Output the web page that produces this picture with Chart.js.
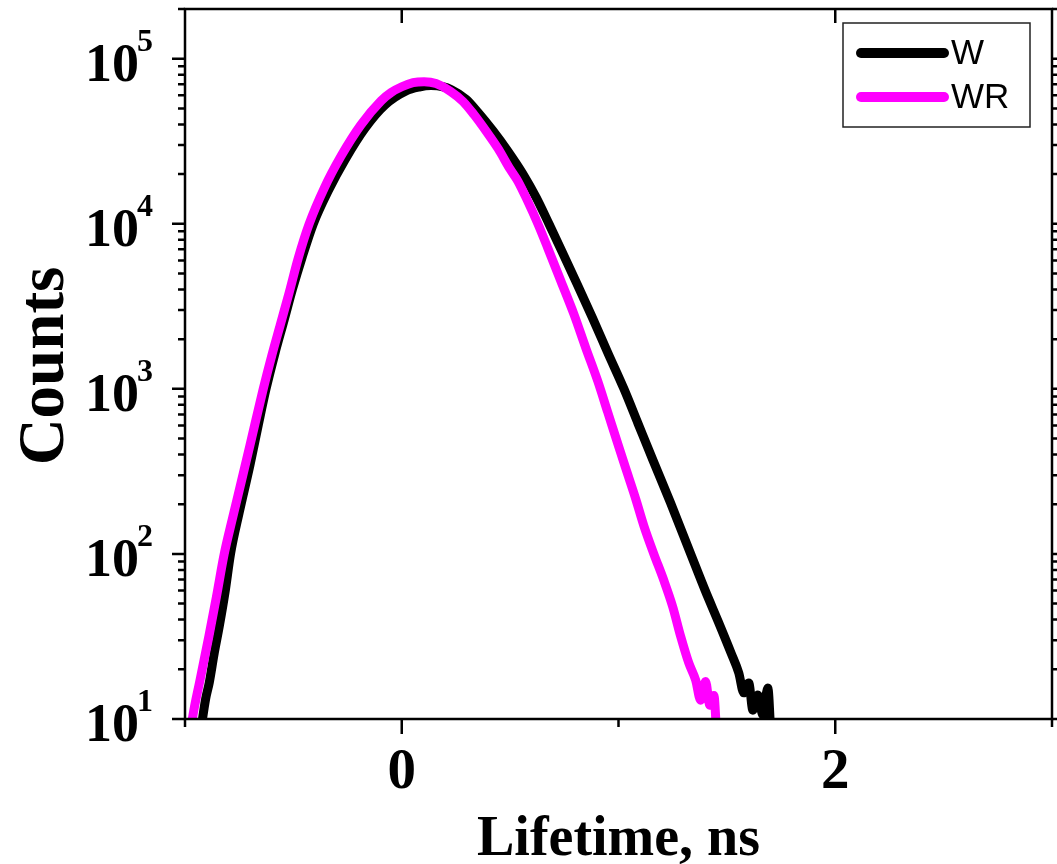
<!DOCTYPE html>
<html>
<head>
<meta charset="utf-8">
<script src="https://cdn.jsdelivr.net/npm/chart.js@4.4.1/dist/chart.umd.min.js"></script>
<style>
  html, body { margin: 0; padding: 0; background: #fff; }
  #wrap { width: 1057px; height: 864px; position: relative; }
</style>
</head>
<body>
<div id="wrap"><canvas id="c" width="1057" height="864"></canvas></div>
<script>
// ---- data ----
const seriesNames = ["W", "WR"];
const seriesColors = ["#000000", "#FF00FF"];

const wTime = [-0.930, -0.905, -0.888, -0.865, -0.842, -0.815, -0.790, -0.750, -0.700, -0.662, -0.626, -0.584, -0.542, -0.505, -0.459, -0.408, -0.339, -0.261, -0.169, -0.077, 0.020, 0.080, 0.135, 0.190, 0.227, 0.296, 0.352, 0.420, 0.490, 0.560, 0.620, 0.679, 0.740, 0.800, 0.880, 0.950, 1.025, 1.090, 1.160, 1.240, 1.333, 1.400, 1.460, 1.520, 1.555, 1.578, 1.601, 1.620, 1.643, 1.666, 1.689, 1.703];
const wCounts = [8, 13.2, 16.6, 25.1, 36.3, 58.9, 100, 178, 347, 603, 1000, 1660, 2630, 3980, 6310, 10000, 15850, 24550, 38000, 52500, 63800, 67300, 68700, 67600, 65000, 56900, 47300, 36700, 27500, 19950, 14450, 10000, 6760, 4570, 2690, 1660, 1000, 617, 367, 204, 100, 60, 39, 25, 19.0, 14.4, 16.5, 11.3, 14.0, 10.6, 15.4, 8];

const wrTime = [-0.975, -0.966, -0.930, -0.890, -0.855, -0.819, -0.780, -0.740, -0.700, -0.639, -0.600, -0.560, -0.520, -0.478, -0.427, -0.358, -0.280, -0.188, -0.095, -0.049, 0.000, 0.052, 0.103, 0.158, 0.227, 0.283, 0.333, 0.390, 0.444, 0.500, 0.536, 0.580, 0.628, 0.674, 0.734, 0.794, 0.849, 0.904, 0.950, 1.001, 1.043, 1.080, 1.117, 1.163, 1.209, 1.250, 1.287, 1.324, 1.356, 1.379, 1.402, 1.421, 1.440, 1.453];
const wrCounts = [8, 10, 17.4, 31.6, 55.0, 100, 166, 275, 457, 1000, 1585, 2455, 3800, 6166, 10000, 16400, 25700, 39800, 55600, 62400, 67600, 71600, 72600, 70800, 63100, 55000, 45900, 36300, 28600, 21400, 18100, 13800, 10000, 7110, 4500, 2840, 1770, 1117, 724, 447, 302, 214, 148, 100, 69.2, 47.9, 31.6, 21.9, 17.2, 13.0, 16.9, 12.1, 13.9, 8];

const xMajorTicks = [0, 2];
const xMinorTicks = [-1, 1, 3];
const yExponents = [1, 2, 3, 4, 5];
const xTitle = "Lifetime, ns";
const yTitle = "Counts";

// ---- build ----
function pts(xs, ys) { return xs.map((x, i) => ({ x: x, y: ys[i] })); }

const SERIF = '"Liberation Serif", "Times New Roman", serif';
const SANS = '"Liberation Sans", Arial, sans-serif';

const decoPlugin = {
  id: 'deco',
  afterDraw(chart) {
    const ctx = chart.ctx;
    const a = chart.chartArea;
    const xs = chart.scales.x, ys = chart.scales.y;
    ctx.save();
    ctx.strokeStyle = '#000';
    ctx.fillStyle = '#000';
    ctx.lineCap = 'butt';
    // frame
    ctx.lineWidth = 2.5;
    ctx.strokeRect(a.left, a.top, a.right - a.left, a.bottom - a.top);

    // y ticks (left outward, right outward)
    for (let e = 1; e <= 5; e++) {
      for (let m = 1; m <= 9; m++) {
        const v = m * Math.pow(10, e);
        if (v > ys.max) break;
        const py = ys.getPixelForValue(v);
        const len = (m === 1) ? 13 : 7;
        ctx.beginPath();
        ctx.moveTo(a.left, py); ctx.lineTo(a.left - len, py);
        ctx.moveTo(a.right, py); ctx.lineTo(a.right + len, py);
        ctx.stroke();
      }
    }
    // x ticks (bottom outward; top inward at majors)
    xMajorTicks.forEach(v => {
      const px = xs.getPixelForValue(v);
      ctx.beginPath();
      ctx.moveTo(px, a.bottom); ctx.lineTo(px, a.bottom + 15);
      ctx.moveTo(px, a.top); ctx.lineTo(px, a.top + 14);
      ctx.stroke();
    });
    xMinorTicks.forEach(v => {
      const px = xs.getPixelForValue(v);
      ctx.beginPath();
      ctx.moveTo(px, a.bottom); ctx.lineTo(px, a.bottom + 8);
      ctx.stroke();
    });

    // y tick labels: 10^e
    yExponents.forEach(e => {
      const py = ys.getPixelForValue(Math.pow(10, e));
      ctx.font = 'bold 54px ' + SERIF;
      ctx.textAlign = 'right';
      ctx.textBaseline = 'alphabetic';
      ctx.fillText('10', 139, py + 22);
      ctx.font = 'bold 32px ' + SERIF;
      ctx.textAlign = 'left';
      ctx.fillText(String(e), 137, py - 8);
    });
    // x tick labels
    ctx.font = 'bold 57px ' + SERIF;
    ctx.textAlign = 'center';
    ctx.textBaseline = 'alphabetic';
    xMajorTicks.forEach(v => {
      ctx.fillText(String(v), xs.getPixelForValue(v), a.bottom + 69);
    });
    // axis titles
    ctx.font = 'bold 56px ' + SERIF;
    ctx.fillText(xTitle, (a.left + a.right) / 2, 855);
    ctx.save();
    ctx.translate(63, 366);
    ctx.rotate(-Math.PI / 2);
    ctx.font = 'bold 65px ' + SERIF;
    ctx.textAlign = 'center';
    ctx.fillText(yTitle, 0, 0);
    ctx.restore();

    // legend
    ctx.lineWidth = 1.5;
    ctx.strokeStyle = '#222';
    ctx.strokeRect(843, 23, 187, 104);
    const rows = [53, 97];
    chart.data.datasets.forEach((ds, i) => {
      ctx.strokeStyle = ds.borderColor;
      ctx.lineWidth = 10;
      ctx.lineCap = 'round';
      ctx.beginPath();
      ctx.moveTo(861, rows[i]); ctx.lineTo(944, rows[i]);
      ctx.stroke();
      ctx.fillStyle = '#000';
      ctx.font = '35px ' + SANS;
      ctx.textAlign = 'left';
      ctx.textBaseline = 'middle';
      ctx.fillText(ds.label, 951, rows[i] + 1);
    });
    ctx.restore();
  }
};

new Chart(document.getElementById('c'), {
  type: 'line',
  data: {
    datasets: [
      { label: seriesNames[0], data: pts(wTime, wCounts), borderColor: seriesColors[0], backgroundColor: seriesColors[0],
        borderWidth: 9, pointRadius: 0, cubicInterpolationMode: 'monotone', fill: false, clip: 0, order: 2 },
      { label: seriesNames[1], data: pts(wrTime, wrCounts), borderColor: seriesColors[1], backgroundColor: seriesColors[1],
        borderWidth: 9, pointRadius: 0, cubicInterpolationMode: 'monotone', fill: false, clip: 0, order: 1 }
    ]
  },
  options: {
    responsive: false,
    animation: false,
    devicePixelRatio: 1,
    layout: { padding: { top: 9, right: 5, left: 0, bottom: 0 } },
    plugins: { legend: { display: false }, tooltip: { enabled: false } },
    scales: {
      x: {
        type: 'linear', min: -1, max: 3,
        ticks: { display: false }, grid: { display: false }, border: { display: false },
        afterFit(s) { s.height = 145; }
      },
      y: {
        type: 'logarithmic', min: 10, max: 200000,
        ticks: { display: false }, grid: { display: false }, border: { display: false },
        afterFit(s) { s.width = 185; }
      }
    }
  },
  plugins: [decoPlugin]
});
</script>
</body>
</html>
